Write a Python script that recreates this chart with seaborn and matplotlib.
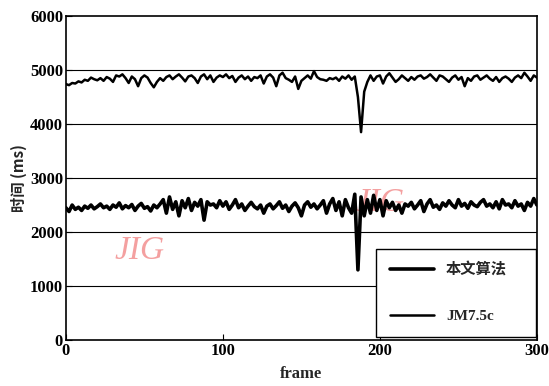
import numpy as np
import pandas as pd
import matplotlib
matplotlib.use("Agg")
import matplotlib.pyplot as plt
import seaborn as sns

frames = list(range(0, 301, 2))

jm75c = [4740, 4720, 4760, 4750, 4790, 4770, 4820, 4800, 4860, 4830, 4810,
         4850, 4800, 4870, 4840, 4780, 4900, 4880, 4920, 4850, 4760,
         4880, 4830, 4700, 4850, 4900, 4860, 4760, 4680, 4780, 4850,
         4800, 4870, 4900, 4830, 4880, 4920, 4860, 4790, 4880, 4900,
         4850, 4760, 4880, 4920, 4830, 4900, 4780, 4860, 4900, 4870,
         4920, 4850, 4890, 4780, 4860, 4900, 4830, 4880, 4800, 4870,
         4850, 4900, 4750, 4880, 4920, 4860, 4700, 4900, 4950, 4850,
         4820, 4780, 4880, 4650, 4800, 4850, 4900, 4840, 4980, 4870,
         4830, 4820, 4800, 4850, 4830, 4860, 4800, 4880, 4840, 4900,
         4820, 4880, 4500, 3850, 4600, 4780, 4900, 4800, 4880, 4900,
         4750, 4880, 4940, 4860, 4780, 4830, 4900, 4850, 4800, 4870,
         4820, 4880, 4900, 4840, 4870, 4920, 4860, 4800, 4900, 4880,
         4830, 4780, 4860, 4900, 4820, 4870, 4700, 4850, 4800, 4880,
         4900, 4820, 4860, 4900, 4840, 4800, 4870, 4780, 4850, 4880,
         4840, 4780, 4860, 4900, 4850, 4950, 4880, 4800, 4900, 4860]

ours = [2450, 2380, 2500, 2420, 2460, 2400, 2480, 2440, 2500, 2430, 2470,
        2520, 2450, 2480, 2420, 2500, 2460, 2540, 2430, 2490, 2450,
        2510, 2400, 2480, 2530, 2440, 2470, 2390, 2500, 2450, 2520,
        2600, 2350, 2650, 2420, 2560, 2300, 2580, 2450, 2620, 2400,
        2550, 2480, 2600, 2220, 2560, 2500, 2520, 2450, 2580, 2480,
        2560, 2420, 2500, 2600, 2450, 2520, 2400, 2480, 2550, 2470,
        2430, 2500, 2350, 2480, 2520, 2430, 2490, 2560, 2440, 2500,
        2380, 2480, 2540, 2450, 2300, 2500, 2560, 2460, 2520, 2430,
        2500, 2580, 2350, 2520, 2620, 2400, 2560, 2300, 2600, 2450,
        2350, 2700, 1300, 2650, 2300, 2600, 2350, 2680, 2400, 2600,
        2300, 2580, 2450, 2550, 2400, 2500, 2350, 2520, 2480, 2550,
        2430, 2500, 2580, 2380, 2520, 2600, 2460, 2500, 2420, 2540,
        2480, 2580, 2500, 2450, 2600, 2480, 2530, 2440, 2560, 2500,
        2470, 2550, 2600, 2480, 2520, 2450, 2560, 2430, 2600, 2500,
        2520, 2450, 2580, 2480, 2520, 2400, 2550, 2480, 2620, 2500]

labels = ["本文算法", "JM7.5c"]
xticks = [0, 100, 200, 300]
yticks = [0, 1000, 2000, 3000, 4000, 5000, 6000]

sns.set_theme(style="white")
plt.rcParams['font.family'] = ['Liberation Serif', 'Noto Sans CJK SC', 'DejaVu Sans']

fig = plt.figure(figsize=(5.49, 3.86), dpi=100)
ax = fig.add_axes([0.12, 0.119, 0.858, 0.8395])

# watermark
ax.text(47, 1650, "JIG", color="#f4a0a0", fontsize=24, style="italic",
        ha="center", va="center", zorder=0, family=['Liberation Serif'])
ax.text(200, 2550, "JIG", color="#f4a0a0", fontsize=24, style="italic",
        ha="center", va="center", zorder=0, family=['Liberation Serif'])

df_ours = pd.DataFrame({"frame": frames, "time": ours})
df_jm = pd.DataFrame({"frame": frames, "time": jm75c})
sns.lineplot(data=df_ours, x="frame", y="time", ax=ax, color="black",
             linewidth=2.6, label=labels[0], zorder=3)
sns.lineplot(data=df_jm, x="frame", y="time", ax=ax, color="black",
             linewidth=1.8, label=labels[1], zorder=3)

ax.set_xlim(0, 300)
ax.set_ylim(0, 6000)
ax.set_xticks(xticks)
ax.set_yticks(yticks)
for yv in yticks[1:-1]:
    ax.axhline(yv, color="black", linewidth=0.8, zorder=1)

ax.tick_params(direction="in", length=4, width=0.8, labelsize=12,
               bottom=True, left=True, colors="black", pad=2)
for lab in ax.get_xticklabels() + ax.get_yticklabels():
    lab.set_fontweight("bold")
for s in ax.spines.values():
    s.set_color("black")
    s.set_linewidth(1.2)

ax.set_xlabel("frame", fontsize=12, fontweight="bold", labelpad=5)
ax.set_ylabel("时间 (ms)", fontsize=11, fontweight="bold", labelpad=2,
              family=['Noto Sans CJK SC', 'Liberation Serif'])

leg = ax.legend(loc="lower left", bbox_to_anchor=(0.658, 0.009, 0.340, 0.28),
                mode="expand", frameon=True, fancybox=False, edgecolor="black",
                framealpha=1.0, facecolor="white",
                handlelength=2.9, handletextpad=0.8, borderpad=0.9,
                labelspacing=2.1, borderaxespad=0.0,
                prop={'family': ['Liberation Serif', 'Noto Sans CJK SC'],
                      'weight': 'bold', 'size': 11})
leg.get_frame().set_linewidth(1.0)
leg.set_zorder(5)

fig.savefig("out.png", dpi=100)
